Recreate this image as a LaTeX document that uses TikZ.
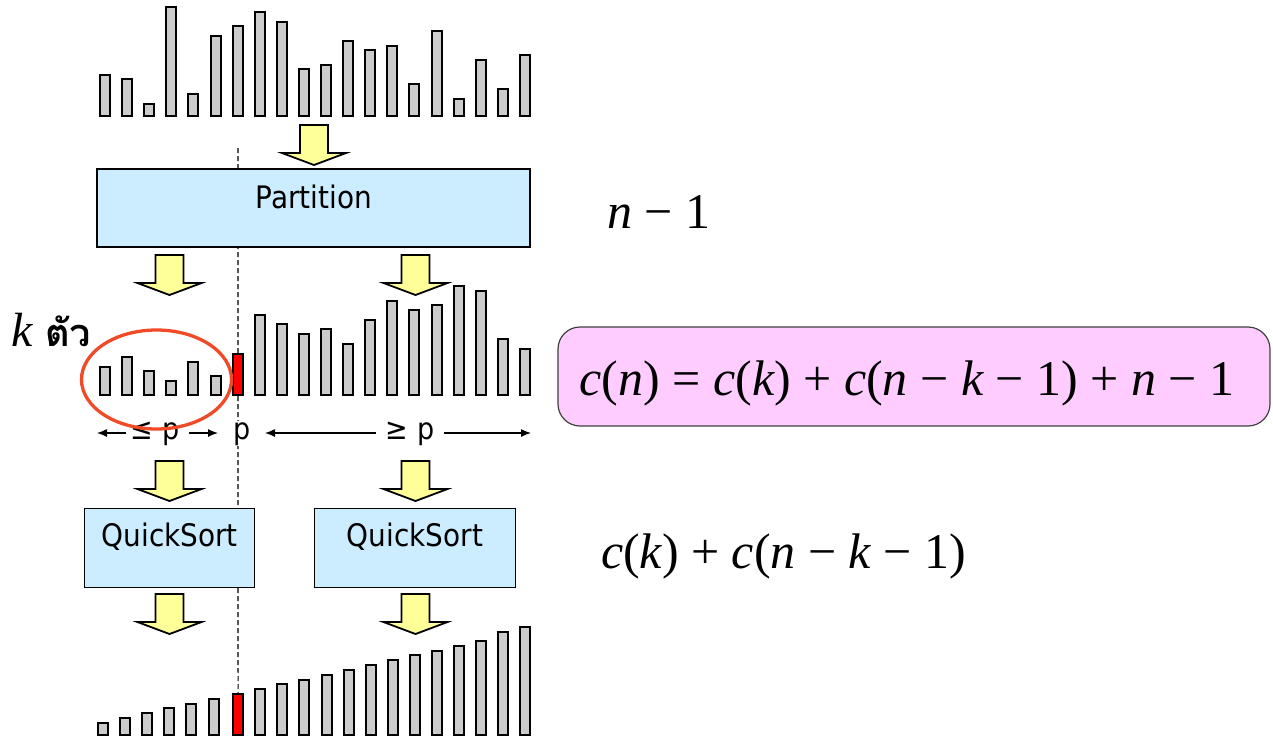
\documentclass[tikz,border=0pt]{standalone}
\usepackage{fontspec}
\usetikzlibrary{arrows.meta,shapes.geometric}
\newfontfamily\sansc{DejaVu Sans Condensed}
\newfontfamily\tnr{Liberation Serif}
\newfontfamily\thaifont[Script=Thai]{Loma}
\newcommand\vi[1]{{\itshape #1}}
\definecolor{barfill}{HTML}{CCCCCC}
\definecolor{boxblue}{HTML}{CCECFF}
\definecolor{ayellow}{HTML}{FFFF99}
\definecolor{pinkbox}{HTML}{FFCCFF}
\definecolor{ellred}{HTML}{F04A26}
\tikzset{
  bar/.style={draw=black, line width=2pt, fill=barfill, minimum width=10pt, inner sep=0pt, anchor=south},
  pivotbar/.style={bar, fill=red},
  procbox/.style={draw=black, line width=1.4pt, fill=boxblue, inner sep=0pt},
  boxtext/.style={font=\sansc\fontsize{31}{36}\selectfont, inner sep=0pt, anchor=base},
  lbltext/.style={font=\sansc\fontsize{30}{34}\selectfont, inner sep=1pt, anchor=base},
  lblarrow/.style={-{Latex[length=10pt,width=8pt]}, line width=1.2pt},
  formula/.style={font=\tnr\fontsize{50}{56}\selectfont, inner sep=0pt, anchor=base},
  downarrow/.pic={\draw[fill=ayellow, line width=1.8pt, line join=miter]
     (-14,0) -- (14,0) -- (14,28) -- (32,28) -- (0,40) -- (-32,28) -- (-14,28) -- cycle;}
}
\begin{document}
\begin{tikzpicture}[x=1pt,y=-1pt]
\useasboundingbox (0,0) rectangle (1273,740);

% top row
\foreach \h [count=\i from 0] in {74.7,79.3,103.7,7.3,94,35.7,26.3,12.3,21.7,69.3,65,40.7,50.3,45.7,84.3,31.3,98.7,60.3,89,55.3}{
  \node[bar, minimum height={118.3-\h-2}] (t\i) at ({105+22.1*\i},117.3) {};
}

% bottom row
\foreach \h [count=\i from 0] in {722.7,717.7,713.3,708.3,703.7,698.7,694,689,684.3,679.7,675,670,665,660.3,655.3,650.7,645.7,641,631.7,626.7}{
  \ifnum\i<6 \def\xoff{-2}\else\def\xoff{0.5}\fi
  \ifnum\i=6 \def\bstyle{pivotbar}\else\def\bstyle{bar}\fi
  \node[\bstyle, minimum height={737.3-\h-2}] (b\i) at ({105+22.1*\i+\xoff},736.3) {};
}

% dashed pivot line
\coordinate (dtop) at (238,148);
\draw[dash pattern=on 5pt off 3pt, line width=1.2pt] (dtop) -- (b6.north);

% boxes
\node[procbox, minimum width=433, minimum height=78] (part) at (313.5,208) {};
\node[boxtext] (partl) at (314,208.3) {Partition};
\node[procbox, minimum width=170, minimum height=79] (qsl) at (169.3,548) {};
\node[boxtext] (qsll) at (169.7,546.7) {QuickSort};
\node[procbox, minimum width=201, minimum height=79] (qsr) at (415,548) {};
\node[boxtext] (qsrl) at (415,546.7) {QuickSort};

% yellow arrows
\pic (a0) at (314,125) {downarrow};
\pic (a1l) at (169.5,255) {downarrow};
\pic (a1r) at (415.5,255) {downarrow};
\pic (a2l) at (169.5,461) {downarrow};
\pic (a2r) at (415.5,461) {downarrow};
\pic (a3l) at (169.5,594) {downarrow};
\pic (a3r) at (415.5,594) {downarrow};

% middle row
\foreach \h [count=\i from 0] in {366.7,357,371.3,381,361.7,376,353.7,315,324.3,334.3,329.3,343.7,319.7,300.7,310,305.3,286,291,339,348.7}{
  \ifnum\i=6 \def\bstyle{pivotbar}\else\def\bstyle{bar}\fi
  \node[\bstyle, minimum height={396.7-\h-2}] (m\i) at ({105+22.1*\i},395.7) {};
}

% labels under middle row
\node[lbltext] (le) at (155,439) {≤ p};
\node[lbltext, fill=white] (pv) at (242.5,439) {p};
\node[lbltext] (ge) at (410,439) {≥ p};
\coordinate (l1a) at (126,433); \coordinate (l1b) at (97,433);
\coordinate (l2a) at (189,433); \coordinate (l2b) at (218,433);
\coordinate (r1a) at (376,433); \coordinate (r1b) at (265,433);
\coordinate (r2a) at (444,433); \coordinate (r2b) at (531,433);
\draw[lblarrow] (l1a) -- (l1b);
\draw[lblarrow] (l2a) -- (l2b);
\draw[lblarrow] (r1a) -- (r1b);
\draw[lblarrow] (r2a) -- (r2b);

% ellipse around the k elements
\node[draw=ellred, line width=3.3pt, ellipse, minimum width=150, minimum height=99, inner sep=0pt] (circ) at (156.5,379.5) {};

% k label
\node[font=\tnr\fontsize{48}{52}\selectfont\itshape, inner sep=0pt, anchor=base] (klab) at (22,346) {k};
\node[font=\thaifont\bfseries\fontsize{38}{44}\selectfont, inner sep=0pt, anchor=base west] (tua) at (45,346) {ตัว};

% formulas
\node[formula] (nm1) at (659,228) {\vi{n} − 1};
\node[draw=black!75, line width=1.2pt, fill=pinkbox, rounded corners=22pt, minimum width=712, minimum height=99, inner sep=0pt] (eqbox) at (914,376.5) {};
\node[formula] (eq) at (907,395) {\vi{c}(\vi{n}) = \vi{c}(\vi{k}) + \vi{c}(\vi{n} − \vi{k} − 1) + \vi{n} − 1};
\node[formula] (ck) at (783.5,568) {\vi{c}(\vi{k}) + \vi{c}(\vi{n} − \vi{k} − 1)};
\end{tikzpicture}
\end{document}
